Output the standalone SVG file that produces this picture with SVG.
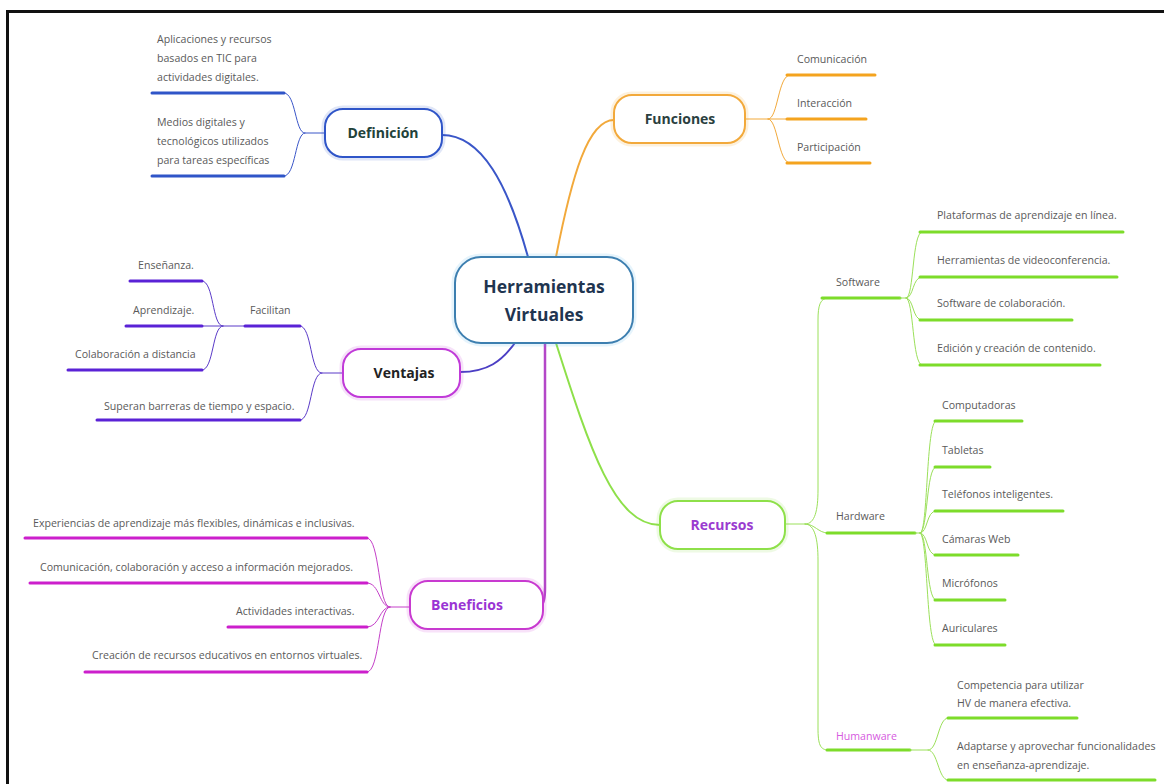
<svg xmlns="http://www.w3.org/2000/svg" width="1164" height="784" viewBox="0 0 1164 784">
<style>
.t{font-family:"Open Sans","Noto Sans",sans-serif;font-size:10.6px;fill:#5a5a5a}
.n{font-family:"Open Sans","Noto Sans",sans-serif;font-size:14px;font-weight:700;text-anchor:middle}
.big{font-size:17.5px}
.c{fill:none;stroke-linecap:round}
.ul{fill:none;stroke-width:3;stroke-linecap:round}
.box{fill:#fff;stroke-width:2}
.halo{fill:none;stroke-width:7;opacity:.15}
</style>
<rect width="1164" height="784" fill="#fff"/>
<path d="M7.5 784 V11.5 H1164" fill="none" stroke="#111" stroke-width="3"/>

<g id="connectors">
  <path class="c" d="M528 257 C508 185 482 135 442 135" stroke="#3a56c8" stroke-width="2"/>
  <path class="c" d="M556 257 C572 175 588 120 614 120" stroke="#f2a93b" stroke-width="2"/>
  <path class="c" d="M517 340 C502 362 487 372 460 372" stroke="#4b3ec4" stroke-width="2"/>
  <path class="c" d="M545 343 V588 C545 598 544 604 541 605" stroke="#b447c8" stroke-width="2.5"/>
  <path class="c" d="M556 343 C590 450 615 525 660 525" stroke="#8ee04a" stroke-width="2"/>
  <path class="c" d="M325 133 H305 C295 133 296 93 284 93 M305 133 C295 133 296 176 284 176" stroke="#3a56c8" stroke-width="1"/>
  <path class="ul" d="M152 93 H284 M152 176 H284" stroke="#2f55c8"/>
  <path class="c" d="M745 119 H768 C778 119 778 75 790 75 M768 119 H790 M768 119 C778 119 778 163 790 163" stroke="#f2a93b" stroke-width="1"/>
  <path class="ul" d="M787 75 H875 M787 119 H866 M787 163 H870" stroke="#f4a31e"/>
  <path class="c" d="M343 373 H322 C310 373 312 326 300 326 M322 373 C310 373 312 420 300 420" stroke="#5a3ac8" stroke-width="1"/>
  <path class="c" d="M245 326 H223 C212 326 214 281 202 281 M223 326 H202 M223 326 C212 326 214 370 202 370" stroke="#5a3ac8" stroke-width="1"/>
  <path class="ul" d="M245 326 H300 M97 420 H300 M130 281 H202 M126 326 H202 M68 370 H202" stroke="#5a22d6"/>
  <path class="c" d="M410 607 H390 C378 607 380 538 367 538 M390 607 C379 607 380 583 367 583 M390 607 C379 607 380 627 367 627 M390 607 C378 607 380 672 367 672" stroke="#c440c8" stroke-width="1"/>
  <path class="ul" d="M25 538 H367 M30 583 H367 M228 627 H367 M85 672 H367" stroke="#cc1fcc"/>
  <path class="c" d="M785 524 H805 C815 524 818 510 818 490 V320 C818 306 820 298 828 298 M805 524 C815 524 818 533 828 533 M805 524 C815 524 818 540 818 560 V728 C818 744 820 750 828 750" stroke="#9be05a" stroke-width="1"/>
  <path class="ul" d="M822 298 H900 M827 533 H915 M827 750 H910" stroke="#7ddc2a"/>
  <path class="c" d="M900 298 H906 C914 298 912 232 922 232 M906 298 C914 298 912 277 922 277 M906 298 C914 298 912 320 922 320 M906 298 C914 298 912 365 922 365" stroke="#9be05a" stroke-width="1"/>
  <path class="ul" d="M920 232 H1123 M920 277 H1117 M920 320 H1072 M920 365 H1100" stroke="#7ddc2a"/>
  <path class="c" d="M915 533 H920 C928 533 926 421 936 421 M920 533 C928 533 926 467 936 467 M920 533 C928 533 926 511 936 511 M920 533 C928 533 926 555 936 555 M920 533 C928 533 926 600 936 600 M920 533 C928 533 926 645 936 645" stroke="#9be05a" stroke-width="1"/>
  <path class="ul" d="M935 421 H1022 M935 467 H990 M935 511 H1063 M935 555 H1018 M935 600 H1005 M935 645 H1005" stroke="#7ddc2a"/>
  <path class="c" d="M910 750 H928 C938 750 938 718 948 718 M928 750 C938 750 938 780 948 780" stroke="#9be05a" stroke-width="1"/>
  <path class="ul" d="M948 718 H1077 M948 780 H1155" stroke="#7ddc2a"/>
</g>

<g id="central">
  <rect class="halo" x="455" y="257" width="178" height="86" rx="26" stroke="#5ab4e8"/>
  <rect class="box" x="455" y="257" width="178" height="86" rx="26" stroke="#3d7fb0"/>
  <text class="n big" x="544" y="293" fill="#1f3550">Herramientas</text>
  <text class="n big" x="544" y="321" fill="#1f3550">Virtuales</text>
</g>

<g id="definicion">
  <rect class="halo" x="325" y="109" width="117" height="48" rx="18" stroke="#2f55c8"/>
  <rect class="box" x="325" y="109" width="117" height="48" rx="18" stroke="#2f55c8"/>
  <text class="n" x="383" y="138" fill="#22423a">Definición</text>
  <text class="t" x="157" y="43">Aplicaciones y recursos</text>
  <text class="t" x="157" y="62">basados en TIC para</text>
  <text class="t" x="157" y="81">actividades digitales.</text>
  <text class="t" x="157" y="126">Medios digitales y</text>
  <text class="t" x="157" y="145">tecnológicos utilizados</text>
  <text class="t" x="157" y="164">para tareas específicas</text>
</g>

<g id="funciones">
  <rect class="halo" x="614" y="95" width="131" height="48" rx="18" stroke="#f4a31e"/>
  <rect class="box" x="614" y="95" width="131" height="48" rx="18" stroke="#f2a93b"/>
  <text class="n" x="680" y="124" fill="#2b3f3f">Funciones</text>
  <text class="t" x="797" y="63">Comunicación</text>
  <text class="t" x="797" y="107">Interacción</text>
  <text class="t" x="797" y="151">Participación</text>
</g>

<g id="ventajas">
  <rect class="halo" x="343" y="349" width="117" height="48" rx="18" stroke="#c03ad8"/>
  <rect class="box" x="343" y="349" width="117" height="48" rx="18" stroke="#c03ad8"/>
  <text class="n" x="404" y="378" fill="#222">Ventajas</text>
  <text class="t" x="250" y="314">Facilitan</text>
  <text class="t" x="138" y="269">Enseñanza.</text>
  <text class="t" x="133" y="314">Aprendizaje.</text>
  <text class="t" x="75" y="358">Colaboración a distancia</text>
  <text class="t" x="104" y="410">Superan barreras de tiempo y espacio.</text>
</g>

<g id="beneficios">
  <rect class="halo" x="410" y="581" width="133" height="48" rx="18" stroke="#d33ad8"/>
  <rect class="box" x="410" y="581" width="133" height="48" rx="18" stroke="#c83ad0"/>
  <text class="n" x="467" y="610" fill="#9a34d4">Beneficios</text>
  <text class="t" x="33" y="527">Experiencias de aprendizaje más flexibles, dinámicas e inclusivas.</text>
  <text class="t" x="40" y="571">Comunicación, colaboración y acceso a información mejorados.</text>
  <text class="t" x="236" y="615">Actividades interactivas.</text>
  <text class="t" x="92" y="659">Creación de recursos educativos en entornos virtuales.</text>
</g>

<g id="recursos">
  <rect class="halo" x="660" y="501" width="125" height="48" rx="18" stroke="#8ee04a"/>
  <rect class="box" x="660" y="501" width="125" height="48" rx="18" stroke="#8ee04a"/>
  <text class="n" x="722" y="530" fill="#9a3bd0">Recursos</text>
  <text class="t" x="836" y="286">Software</text>
  <text class="t" x="836" y="520">Hardware</text>
  <text class="t" x="836" y="740" style="fill:#d65ae0">Humanware</text>
  <text class="t" x="937" y="219">Plataformas de aprendizaje en línea.</text>
  <text class="t" x="937" y="264">Herramientas de videoconferencia.</text>
  <text class="t" x="937" y="307">Software de colaboración.</text>
  <text class="t" x="937" y="352">Edición y creación de contenido.</text>
  <text class="t" x="942" y="409">Computadoras</text>
  <text class="t" x="942" y="454">Tabletas</text>
  <text class="t" x="942" y="498">Teléfonos inteligentes.</text>
  <text class="t" x="942" y="543">Cámaras Web</text>
  <text class="t" x="942" y="587">Micrófonos</text>
  <text class="t" x="942" y="632">Auriculares</text>
  <text class="t" x="957" y="689">Competencia para utilizar</text>
  <text class="t" x="957" y="707">HV de manera efectiva.</text>
  <text class="t" x="957" y="750">Adaptarse y aprovechar funcionalidades</text>
  <text class="t" x="957" y="769">en enseñanza-aprendizaje.</text>
</g>
</svg>
